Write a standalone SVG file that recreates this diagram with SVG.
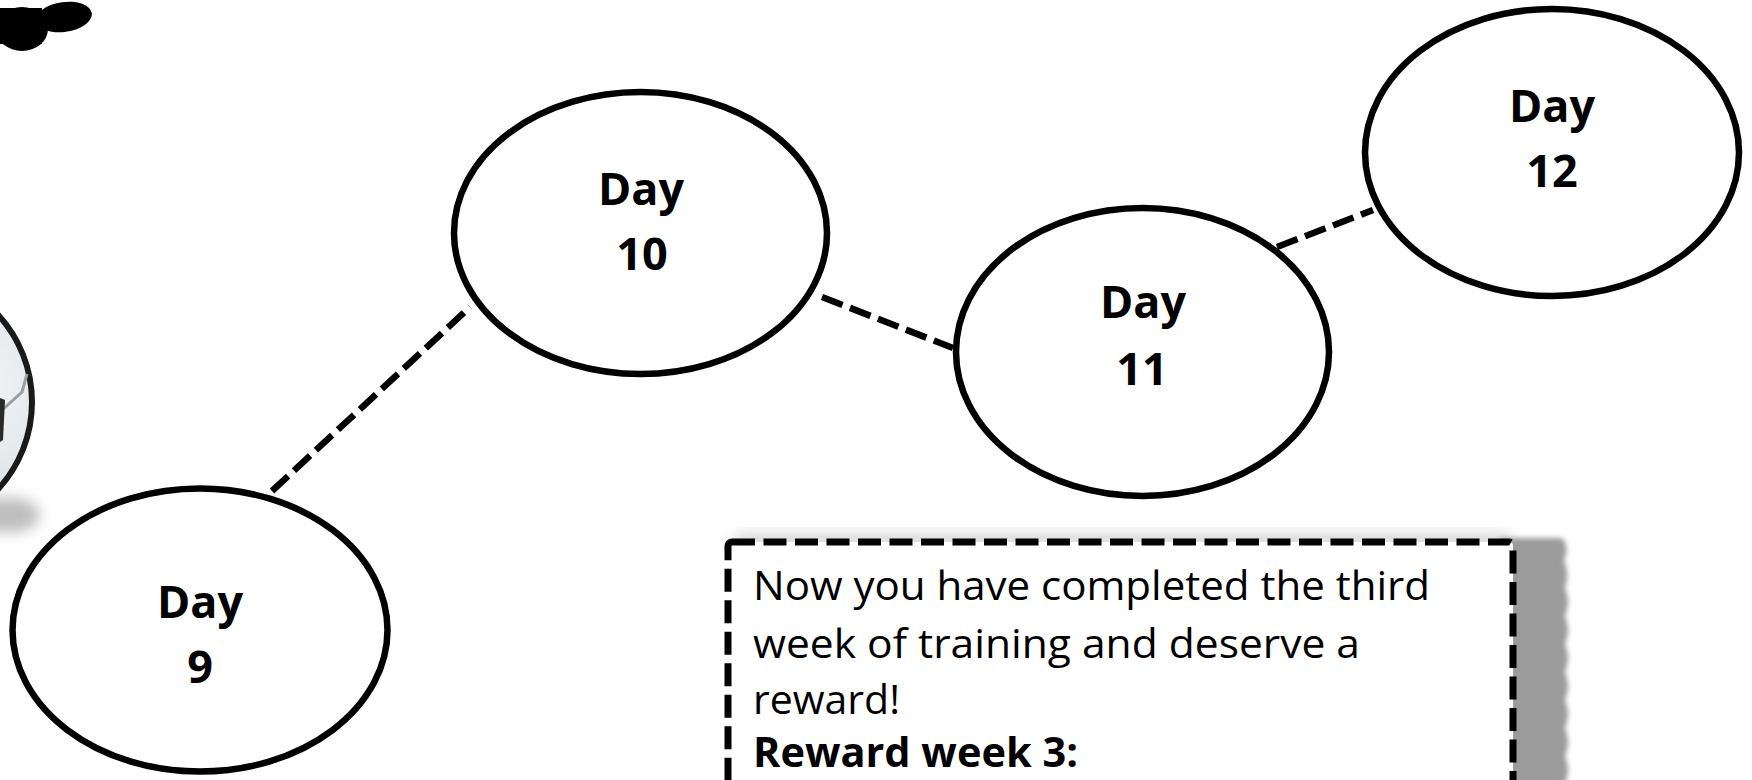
<svg xmlns="http://www.w3.org/2000/svg" width="1752" height="780" viewBox="0 0 1752 780">
  <style>
    .day ellipse { fill: #ffffff; stroke: #000000; stroke-width: 6.5; }
    .day text { font-family: "Open Sans", "DejaVu Sans", sans-serif; font-weight: bold; font-size: 45px; fill: #000000; text-anchor: middle; }
    .link { stroke: #000000; stroke-width: 6.5; stroke-dasharray: 22 8; fill: none; }
    .note { font-family: "Open Sans", "DejaVu Sans", sans-serif; font-size: 41px; fill: #000000; }
  </style>
  <defs>
    <filter id="soft" x="-20%" y="-20%" width="140%" height="140%">
      <feGaussianBlur stdDeviation="2.5"/>
    </filter>
    <filter id="haze" x="-50%" y="-50%" width="200%" height="200%">
      <feGaussianBlur stdDeviation="7"/>
    </filter>
    <radialGradient id="ballFill" cx="0.75" cy="0.45" r="0.6">
      <stop offset="0" stop-color="#f3f5f7"/>
      <stop offset="0.8" stop-color="#dfe2e6"/>
      <stop offset="1" stop-color="#c9ccd1"/>
    </radialGradient>
  </defs>

  <rect width="1752" height="780" fill="#ffffff"/>

  <!-- ink blot, top left corner -->
  <g id="blot">
    <ellipse cx="22" cy="29" rx="26" ry="22" fill="#000000"/>
    <ellipse cx="64" cy="17" rx="28" ry="15" transform="rotate(-8 64 17)" fill="#000000"/>
    <rect x="0" y="8" width="42" height="36" fill="#000000"/>
  </g>

  <!-- football peeking in from the left edge -->
  <g id="ball">
    <ellipse cx="8" cy="515" rx="32" ry="18" fill="#8a8a8a" opacity="0.55" filter="url(#haze)"/>
    <circle cx="-97" cy="402" r="129" fill="url(#ballFill)" stroke="#1a1a1a" stroke-width="6"/>
    <path d="M0 412 L22 392 L27 374" fill="none" stroke="#9a9ea4" stroke-width="3"/>
    <path d="M0 398 L5 400 L3 440 L0 442 Z" fill="#2a2a2a"/>
  </g>

  <!-- dashed connectors between the days -->
  <g id="connectors">
    <line class="link" x1="272" y1="491" x2="470" y2="307"/>
    <line class="link" x1="822" y1="297" x2="953" y2="348"/>
    <line class="link" x1="1277" y1="247" x2="1373" y2="210"/>
  </g>

  <g id="day9" class="day">
    <ellipse cx="200" cy="630" rx="187.5" ry="141.5"/>
    <text x="200" y="618">Day</text>
    <text x="200" y="683">9</text>
  </g>

  <g id="day10" class="day">
    <ellipse cx="640.5" cy="233" rx="186.5" ry="141"/>
    <text x="641" y="205">Day</text>
    <text x="642" y="270">10</text>
  </g>

  <g id="day11" class="day">
    <ellipse cx="1142.5" cy="352" rx="186.5" ry="144"/>
    <text x="1143" y="318">Day</text>
    <text x="1142" y="385">11</text>
  </g>

  <g id="day12" class="day">
    <ellipse cx="1552" cy="152.5" rx="187" ry="143.5"/>
    <text x="1552" y="122">Day</text>
    <text x="1552" y="187">12</text>
  </g>

  <!-- reward note with its drop shadow -->
  <g id="reward">
    <rect x="735" y="534" width="775" height="14" fill="#b5b5b5" opacity="0.6" filter="url(#haze)"/>
    <path d="M1500 538 L1562 538 Q1570 548 1564 560 Q1570 574 1565 588 Q1571 602 1565 616 Q1571 630 1565 644 Q1571 658 1565 672 Q1571 686 1565 700 Q1571 714 1565 728 Q1571 742 1565 756 Q1571 770 1565 784 L1500 790 Z" fill="#9b9b9b" filter="url(#soft)"/>
    <rect x="728" y="542" width="785" height="300" rx="4" fill="#ffffff" stroke="#000000" stroke-width="7" stroke-dasharray="23 8.5"/>
    <text class="note" x="753" y="600" textLength="677" lengthAdjust="spacingAndGlyphs">Now you have completed the third</text>
    <text class="note" x="753" y="658" textLength="607" lengthAdjust="spacingAndGlyphs">week of training and deserve a</text>
    <text class="note" x="753" y="714" textLength="147" lengthAdjust="spacingAndGlyphs">reward!</text>
    <text class="note" x="753" y="767" font-weight="bold" textLength="325" lengthAdjust="spacingAndGlyphs">Reward week 3:</text>
  </g>
</svg>
